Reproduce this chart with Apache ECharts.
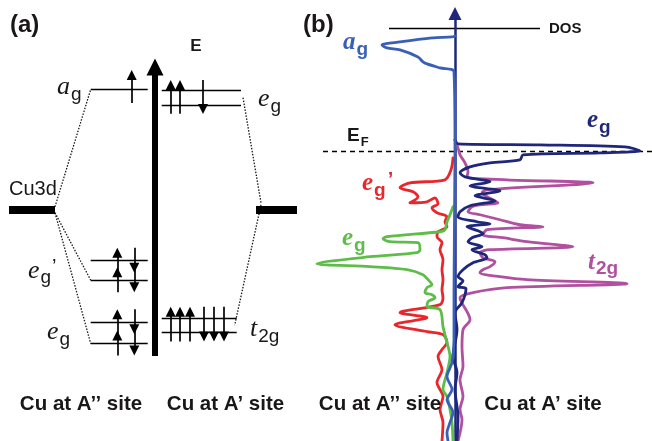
<!DOCTYPE html>
<html><head><meta charset="utf-8">
<script src="https://cdn.jsdelivr.net/npm/echarts/dist/echarts.min.js"></script>
<style>html,body{margin:0;padding:0;background:#fff}#c{width:652px;height:441px}</style>
</head><body><div id="c"></div>
<script>
// ---------- Panel (a): schematic level energies (same energy scale as panel b) ----------
const cu3dLevel = -1.16;
const agLevelsA2 = [1.24];            // a_g, Cu at A'' site
const egpLevelsA2 = [-2.19, -2.58];   // e_g', Cu at A'' site
const egLevelsA2 = [-3.42, -3.85];    // e_g,  Cu at A'' site
const egLevelsA1 = [1.22, 0.93];      // e_g,  Cu at A' site
const t2gLevelsA1 = [-3.34, -3.62];   // t_2g, Cu at A' site

// ---------- Panel (b): DOS curves, pairs of [DOS, energy] ----------
const dosAgBlue = [[0,2.31],[-0.03,2.29],[-0.23,2.27],[-0.55,2.19],[-0.73,2.13],[-0.68,2.07],[-0.55,2.03],[-0.37,1.89],[-0.32,1.79],[-0.28,1.75],[-0.15,1.67],[-0.01,1.59],[0,0.03],[-0.01,-2.77],[-0.01,-3.77],[-0.03,-4.23],[-0.08,-4.51],[-0.03,-4.77],[-0.08,-4.97],[-0.02,-5.23],[-0.05,-5.43],[-0.08,-5.63],[-0.07,-5.8]];
const dosEgNavy = [[0,0.23],[0.03,0.15],[0.85,0.13],[1.7,0.09],[1.85,0.01],[1.45,-0.03],[0.68,-0.07],[0.65,-0.17],[0.35,-0.23],[0.15,-0.31],[0.05,-0.43],[0.1,-0.51],[0.35,-0.61],[0.15,-0.69],[0.45,-0.79],[0.2,-0.89],[0.4,-0.99],[0.15,-1.09],[0.05,-1.21],[0.03,-1.31],[0.22,-1.41],[0.35,-1.45],[0.12,-1.51],[0.23,-1.59],[0.28,-1.65],[0.17,-1.73],[0.13,-1.81],[0.27,-1.91],[0.17,-1.97],[0.3,-2.07],[0.32,-2.13],[0.18,-2.23],[0.08,-2.37],[0.03,-2.51],[0.08,-2.59],[0.03,-2.71],[0.11,-2.75],[0.07,-3.03],[0,-3.23],[0.02,-3.57],[-0.02,-4.11],[0.02,-4.43],[0,-4.77],[0.03,-5.31],[0.02,-5.8]];
const dosT2gMagenta = [[0,0.23],[0.03,0.07],[0.05,-0.07],[0.1,-0.23],[0.13,-0.41],[0.12,-0.51],[0.52,-0.57],[1.38,-0.63],[0.32,-0.77],[0.27,-0.83],[0.38,-0.97],[0.43,-1.03],[0.25,-1.07],[0.17,-1.11],[0.13,-1.21],[0.25,-1.27],[0.45,-1.37],[0.65,-1.47],[0.88,-1.51],[0.32,-1.57],[0.28,-1.67],[0.48,-1.73],[0.72,-1.81],[1.18,-1.91],[0.35,-1.97],[0.25,-2.03],[0.28,-2.13],[0.4,-2.21],[0.35,-2.31],[0.28,-2.37],[0.25,-2.43],[0.45,-2.51],[0.72,-2.57],[1.72,-2.65],[0.52,-2.73],[0.18,-2.83],[0.05,-2.93],[0.15,-3.37],[0.08,-3.57],[0.07,-3.91],[0.08,-4.31],[0.05,-4.57],[0.08,-4.91],[0.05,-5.17],[0.07,-5.37],[0.03,-5.8]];
const dosEgpRed = [[-0.02,-0.13],[-0.04,-0.37],[-0.1,-0.57],[-0.45,-0.63],[-0.55,-0.73],[-0.42,-0.81],[-0.37,-0.91],[-0.45,-1.03],[-0.28,-1.01],[-0.2,-0.93],[-0.17,-1.05],[-0.23,-1.13],[-0.18,-1.23],[-0.08,-1.31],[-0.1,-1.41],[-0.08,-1.51],[-0.17,-1.61],[-0.18,-1.71],[-0.13,-1.83],[-0.15,-1.97],[-0.12,-2.17],[-0.13,-2.37],[-0.12,-2.57],[-0.13,-2.77],[-0.12,-2.93],[-0.15,-3.07],[-0.55,-3.23],[-0.28,-3.33],[-0.6,-3.47],[-0.28,-3.61],[-0.12,-3.67],[-0.08,-3.83],[-0.13,-3.97],[-0.17,-4.11],[-0.13,-4.37],[-0.18,-4.63],[-0.12,-4.91],[-0.15,-5.17],[-0.12,-5.43],[-0.13,-5.8]];
const dosEgGreen = [[-0.02,-1.11],[-0.05,-1.27],[-0.08,-1.41],[-0.1,-1.57],[-0.15,-1.61],[-0.68,-1.71],[-0.72,-1.75],[-0.65,-1.81],[-0.37,-1.83],[-0.35,-1.97],[-0.38,-2.03],[-0.85,-2.11],[-1.38,-2.25],[-0.85,-2.31],[-0.48,-2.37],[-0.32,-2.47],[-0.27,-2.57],[-0.23,-2.67],[-0.28,-2.73],[-0.3,-2.83],[-0.23,-2.87],[-0.2,-2.93],[-0.27,-3.01],[-0.28,-3.11],[-0.15,-3.17],[-0.12,-3.51],[-0.08,-3.83],[-0.05,-4.11],[-0.08,-4.43],[-0.12,-4.77],[-0.08,-4.91],[-0.05,-5.17],[-0.03,-5.43],[-0.02,-5.8]];
const fermiLevel = 0;

// ---------- layout (axis units) ----------
const LAY = {
  a2: [9.07, 14.77], a1eg: [16.17, 24.1], a1t2g: [16.17, 23.67],
  barL: [0.9, 5.5], barR: [25.6, 29.7],
  eAxis: {x: 15.5, from: -4.1, to: 1.69},
  dosAxis: {from: -5.8, to: 2.76}, dosBar: {y: 2.46, x: [-0.66, 0.85]}, fermiX: [-1.32, 1.97]
};
const INK = '#1a1718';
const COL = {blue: '#3a60b6', navy: '#1f277a', magenta: '#b0509f', red: '#e8262b', green: '#5ebd48'};

function hseg(x, E) { return {coords: [[x[0], E], [x[1], E]]}; }
const levelLines = [];
[...agLevelsA2, ...egpLevelsA2, ...egLevelsA2].forEach(E => levelLines.push(hseg(LAY.a2, E)));
egLevelsA1.forEach(E => levelLines.push(hseg(LAY.a1eg, E)));
t2gLevelsA1.forEach(E => levelLines.push(hseg(LAY.a1t2g, E)));

const HEAD = 0.1;
const spinArrows = [];
function spins(ups, downs, lo, hi) {
  ups.forEach(x => spinArrows.push({coords: [[x, lo], [x, hi - HEAD]]}));
  downs.forEach(x => spinArrows.push({coords: [[x, hi], [x, lo + HEAD]]}));
}
spins([13.17], [], agLevelsA2[0] - 0.27, agLevelsA2[0] + 0.39);
spins([17.07, 18.0], [20.3], Math.min(...egLevelsA1) - 0.18, Math.max(...egLevelsA1) + 0.21);
egpLevelsA2.forEach(E => spins([11.73], [13.43], E - 0.24, E + 0.26));
egLevelsA2.forEach(E => spins([11.73], [13.43], E - 0.24, E + 0.26));
spins([17.07, 18.0, 19.0], [20.4, 21.4, 22.4], Math.min(...t2gLevelsA1) - 0.19, Math.max(...t2gLevelsA1) + 0.23);

const connectors = [
  {coords: [[LAY.barL[1], cu3dLevel + 0.05], [LAY.a2[0], agLevelsA2[0]]]},
  {coords: [[LAY.barL[1], cu3dLevel - 0.07], [LAY.a2[0], Math.min(...egpLevelsA2)]]},
  {coords: [[LAY.barL[1], cu3dLevel - 0.07], [LAY.a2[0], Math.min(...egLevelsA2)]]},
  {coords: [[LAY.a1eg[1] + 0.2, (egLevelsA1[0] + egLevelsA1[1]) / 2], [LAY.barR[0] + 0.5, cu3dLevel + 0.13]]},
  {coords: [[LAY.barR[0] + 0.5, cu3dLevel + 0.09], [LAY.a1t2g[1] - 0.2, (t2gLevelsA1[0] + t2gLevelsA1[1]) / 2]]}
];

// ---------- text ----------
const NB = {textBorderWidth: 0, textShadowBlur: 0, opacity: 1};
const richA = {
  i: Object.assign({fontFamily: 'Liberation Serif', fontStyle: 'italic', fontSize: 26, lineHeight: 28, verticalAlign: 'top', color: INK}, NB),
  s: Object.assign({fontFamily: 'Liberation Sans', fontSize: 19, lineHeight: 20, padding: [11, 0, 0, 1], verticalAlign: 'top', color: INK}, NB),
  p: Object.assign({fontFamily: 'Liberation Sans', fontSize: 20, lineHeight: 20, padding: [0, 0, 0, 1], verticalAlign: 'top', color: INK}, NB)
};
function richB(c) {
  return {
    i: Object.assign({fontFamily: 'Liberation Serif', fontStyle: 'italic', fontWeight: 'bold', fontSize: 25, lineHeight: 26, verticalAlign: 'top', color: c}, NB),
    s: Object.assign({fontFamily: 'Liberation Sans', fontWeight: 'bold', fontSize: 19, lineHeight: 20, padding: [10, 0, 0, 1], verticalAlign: 'top', color: c}, NB),
    p: Object.assign({fontFamily: 'Liberation Sans', fontWeight: 'bold', fontSize: 20, lineHeight: 20, padding: [0, 0, 0, 2], verticalAlign: 'top', color: c}, NB)
  };
}
const plain = (size, bold) => ({fontFamily: 'Liberation Sans', fontSize: size, fontWeight: bold ? 'bold' : 'normal', color: INK});

function lbl(x, y, text, style, align) {
  return {value: [x, y], label: Object.assign({show: true, position: 'inside', formatter: text, align: align || 'left', verticalAlign: 'middle', opacity: 1, textBorderWidth: 0, textBorderColor: 'transparent', textShadowBlur: 0}, style)};
}
const labelsA = [
  lbl(1.0, 2.53, '(a)', plain(24, true)),
  lbl(19.6, 2.11, 'E', plain(17, true), 'center'),
  lbl(0.9, -0.77, 'Cu3d', plain(20, false)),
  lbl(5.7, 1.26, '{i|a}{s|g}', {rich: richA}),
  lbl(25.8, 1.03, '{i|e}{s|g}', {rich: richA}),
  lbl(2.8, -2.41, '{i|e}{s|g}{p|’}', {rich: richA}),
  lbl(4.7, -3.65, '{i|e}{s|g}', {rich: richA}),
  lbl(25.0, -3.59, '{i|t}{s|2g}', {rich: richA}),
  lbl(8.1, -5.07, 'Cu at A’’ site', plain(20.5, true), 'center'),
  lbl(22.55, -5.07, 'Cu at A’ site', plain(20.5, true), 'center')
];
const labelsB = [
  lbl(-1.52, 2.53, '(b)', plain(24, true)),
  lbl(0.94, 2.45, 'DOS', plain(15, true)),
  lbl(-1.08, 0.3, '{e|E}{f|F}', {rich: {e: Object.assign({fontFamily: 'Liberation Sans', fontWeight: 'bold', fontSize: 19, lineHeight: 20, verticalAlign: 'top', color: INK}, NB), f: Object.assign({fontFamily: 'Liberation Sans', fontWeight: 'bold', fontSize: 13, lineHeight: 14, padding: [10, 0, 0, 1], verticalAlign: 'top', color: INK}, NB)}}),
  lbl(-1.12, 2.16, '{i|a}{s|g}', {rich: richB(COL.blue)}),
  lbl(1.32, 0.6, '{i|e}{s|g}', {rich: richB(COL.navy)}),
  lbl(-0.93, -0.65, '{i|e}{s|g}{p|’}', {rich: richB(COL.red)}),
  lbl(-1.13, -1.76, '{i|e}{s|g}', {rich: richB(COL.green)}),
  lbl(1.33, -2.23, '{i|t}{s|2g}', {rich: richB(COL.magenta)}),
  lbl(-0.75, -5.07, 'Cu at A’’ site', plain(20.5, true), 'center'),
  lbl(0.88, -5.07, 'Cu at A’ site', plain(20.5, true), 'center')
];

const base = {silent: true, animation: false};
function linesS(gi, data, style, extra) {
  return Object.assign({type: 'lines', coordinateSystem: 'cartesian2d', xAxisIndex: gi, yAxisIndex: gi, data: data, lineStyle: Object.assign({opacity: 1}, style), symbol: 'none'}, base, extra || {});
}
function dosS(data, color) {
  return Object.assign({type: 'line', xAxisIndex: 1, yAxisIndex: 1, data: data, showSymbol: false, symbol: 'none', smooth: 0.3,
    lineStyle: {color: color, width: 2.8, cap: 'round', join: 'round'}, emphasis: {disabled: true}}, base);
}
function labS(gi, data) {
  return Object.assign({type: 'scatter', xAxisIndex: gi, yAxisIndex: gi, symbolSize: 0, itemStyle: {color: '#000', opacity: 1}, data: data, z: 10, emphasis: {disabled: true}}, base);
}

const chart = echarts.init(document.getElementById('c'));
chart.setOption({
  animation: false,
  backgroundColor: '#fff',
  grid: [
    {left: 0, top: 1.5, width: 300, height: 440},
    {left: 300, top: 1.5, width: 352, height: 440}
  ],
  xAxis: [
    {type: 'value', gridIndex: 0, min: 0, max: 30, show: false},
    {type: 'value', gridIndex: 1, min: -1.55, max: 1.97, show: false}
  ],
  yAxis: [
    {type: 'value', gridIndex: 0, min: -5.8, max: 3.0, show: false},
    {type: 'value', gridIndex: 1, min: -5.8, max: 3.0, show: false}
  ],
  series: [
    // panel (a)
    linesS(0, connectors, {color: INK, width: 1.3, type: [1.5, 1.5]}),
    linesS(0, levelLines, {color: '#000', width: 1.4}),
    linesS(0, [hseg(LAY.barL, cu3dLevel), hseg(LAY.barR, cu3dLevel)], {color: '#000', width: 8}),
    linesS(0, spinArrows, {color: '#000', width: 1.7}, {symbol: ['none', 'triangle'], symbolSize: 10}),
    linesS(0, [{coords: [[LAY.eAxis.x, LAY.eAxis.from], [LAY.eAxis.x, LAY.eAxis.to]]}], {color: '#000', width: 6}, {symbol: ['none', 'triangle'], symbolSize: 17}),
    labS(0, labelsA),
    // panel (b)
    linesS(1, [{coords: [[LAY.dosBar.x[0], LAY.dosBar.y], [LAY.dosBar.x[1], LAY.dosBar.y]]}], {color: '#000', width: 1.3}),
    linesS(1, [{coords: [[LAY.fermiX[0], fermiLevel], [LAY.fermiX[1], fermiLevel]]}], {color: '#000', width: 1.3, type: [5, 4]}),
    linesS(1, [{coords: [[0, LAY.dosAxis.from], [0, LAY.dosAxis.to]]}], {color: COL.navy, width: 2.5}, {symbol: ['none', 'triangle'], symbolSize: 13}),
    dosS(dosEgpRed, COL.red),
    dosS(dosEgGreen, COL.green),
    dosS(dosT2gMagenta, COL.magenta),
    dosS(dosEgNavy, COL.navy),
    dosS(dosAgBlue, COL.blue),
    labS(1, labelsB)
  ]
});
</script></body></html>
